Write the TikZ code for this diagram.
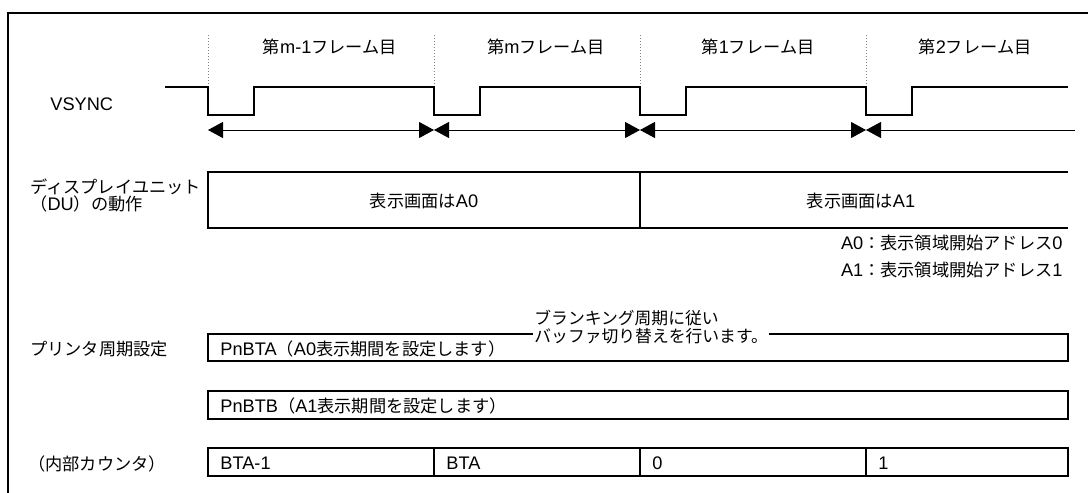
\documentclass[tikz,border=0pt]{standalone}
\usepackage{fontspec}
\setmainfont{Noto Sans CJK JP}
\newfontfamily\latinfont{Liberation Sans}
\newcommand{\ltn}[1]{{\latinfont\fontsize{9.1}{9}\selectfont #1}}
\usetikzlibrary{positioning,arrows.meta}
\tikzset{
  frm/.style={line width=1pt},
  sig/.style={line width=1.3pt},
  lane/.style={draw,line width=1pt},
  guide/.style={densely dotted,gray,line width=0.5pt},
  span/.style={{Triangle[length=7.5pt,width=8pt]}-{Triangle[length=7.5pt,width=8pt]},line width=0.5pt},
  lbl/.style={font=\fontsize{8.6}{8.6}\selectfont,inner sep=0pt},
  rowlbl/.style={lbl,anchor=west,align=left},
  cell/.style={lbl,anchor=west}
}
\begin{document}
\begin{tikzpicture}[x=0.5pt,y=-0.5pt]
  \useasboundingbox (0,0) rectangle (1088,493);
  \draw[frm] (8,493) -- (8,13) -- (1088,13);

  \node[rowlbl] (vsync) at (50,104) {\ltn{VSYNC}};
  \node[rowlbl,font=\fontsize{8.6}{8.5}\selectfont] (du) at (30,195) {ディスプレイユニット\\（\ltn{DU}）の動作};
  \node[rowlbl] (prd) at (30,349) {プリンタ周期設定};
  \node[rowlbl] (cnt) at (28,464) {（内部カウンタ）};

  \foreach \x/\n in {208/1,434/2,640/3,866/4}{
    \coordinate (g\n) at (\x,130);
    \draw[guide] (\x,35) -- (\x,87);
  }
  \coordinate (gend) at (1075,130);
  \draw[sig] (165,87) foreach \x in {208,434,640,866}{ -- (\x,87) -- (\x,115) -- ({\x+46},115) -- ({\x+46},87) } -- (1068,87);
  \draw[span] (g1) -- (g2);
  \draw[span] (g2) -- (g3);
  \draw[span] (g3) -- (g4);
  \draw[{Triangle[length=7.5pt,width=8pt]}-,line width=0.5pt] (g4) -- (gend);

  \node[lbl] (fm1) at (330,47) {第\ltn{m-1}フレーム目};
  \node[lbl] (fm) at (546,47) {第\ltn{m}フレーム目};
  \node[lbl] (f1) at (758,47) {第\ltn{1}フレーム目};
  \node[lbl] (f2) at (975,47) {第\ltn{2}フレーム目};

  \draw[lane] (1068,172) -- (208,172) -- (208,228) -- (1068,228);
  \draw[lane] (640,172) -- (640,228);
  \node[lbl] (scr0) at (424,201) {表示画面は\ltn{A0}};
  \node[lbl] (scr1) at (861,201) {表示画面は\ltn{A1}};
  \node[lbl,anchor=east] (adr0) at (1063,243) {\ltn{A0}：表示領域開始アドレス\ltn{0}};
  \node[lbl,anchor=east] (adr1) at (1063,270) {\ltn{A1}：表示領域開始アドレス\ltn{1}};

  \draw[lane] (208,334) rectangle (1068,361);
  \node[cell] (bta) at (220,349) {\ltn{PnBTA}（\ltn{A0}表示期間を設定します）};
  \node[rowlbl,fill=white,inner xsep=0.5pt,inner ysep=1pt,font=\fontsize{8.4}{9}\selectfont] (note) at (533,327) {ブランキング周期に従い\\バッファ切り替えを行います。\hspace{-0.45em}};

  \draw[lane] (208,391) rectangle (1068,419);
  \node[cell] (btb) at (220,406) {\ltn{PnBTB}（\ltn{A1}表示期間を設定します）};

  \draw[lane] (208,448) rectangle (1068,476);
  \foreach \x in {434,640,866} \draw[lane] (\x,448) -- (\x,476);
  \node[cell] (c1) at (220,463) {\ltn{BTA-1}};
  \node[cell] (c2) at (446,463) {\ltn{BTA}};
  \node[cell] (c3) at (652,463) {\ltn{0}};
  \node[cell] (c4) at (878,463) {\ltn{1}};
\end{tikzpicture}
\end{document}
